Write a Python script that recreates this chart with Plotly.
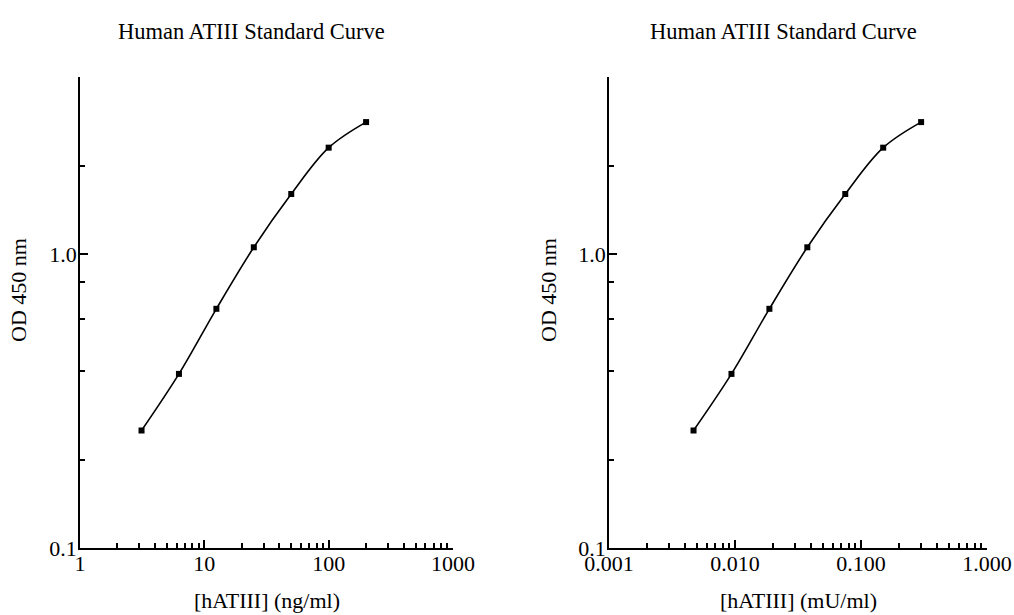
import plotly.graph_objects as go
import math

# Data
conc_ng = [3.125, 6.25, 12.5, 25, 50, 100, 200]
conc_mU = [0.0046875, 0.009375, 0.01875, 0.0375, 0.075, 0.15, 0.3]
od450 = [0.251, 0.391, 0.651, 1.054, 1.60, 2.30, 2.81]

x1_tickvals = [1, 10, 100, 1000]
x1_ticktext = ["1", "10", "100", "1000"]
x2_tickvals = [0.001, 0.01, 0.1, 1.0]
x2_ticktext = ["0.001", "0.010", "0.100", "1.000"]
y_tickvals = [0.1, 1.0]
y_ticktext = ["0.1", "1.0"]
y_minor = [0.2, 0.4, 0.6, 0.8, 2, 4]

W, H = 1014, 615
FONT = "Liberation Serif"

def minor_decades(lo, hi):
    vals = []
    d = lo
    while d < hi * 0.999:
        for k in range(2, 10):
            vals.append(d * k)
        d *= 10
    return vals

fig = go.Figure()
line = dict(color="black", width=1.6, shape="spline", smoothing=1.0)
marker = dict(symbol="square", size=6, color="black")
fig.add_trace(go.Scatter(x=conc_ng, y=od450, mode="lines+markers", line=line,
                         marker=marker, xaxis="x", yaxis="y", showlegend=False))
fig.add_trace(go.Scatter(x=conc_mU, y=od450, mode="lines+markers", line=line,
                         marker=marker, xaxis="x2", yaxis="y2", showlegend=False))

def px(x):
    return x / W

def py(y):
    return 1 - y / H

common_ax = dict(type="log", showgrid=False, zeroline=False, showline=True,
                 linecolor="black", linewidth=1.5, ticks="inside", ticklen=8,
                 tickwidth=1.5, tickcolor="black", automargin=False,
                 tickfont=dict(family=FONT, size=22, color="black"))
minor_style = dict(ticks="inside", ticklen=5, tickwidth=1.5, tickcolor="black",
                   showgrid=False)

ydom = [py(548), py(77)]
fig.update_layout(
    width=W, height=H, margin=dict(l=0, r=0, t=0, b=0, autoexpand=False),
    paper_bgcolor="white", plot_bgcolor="white",
    xaxis=dict(common_ax, domain=[px(80), px(453)], range=[0, 3],
               tickmode="array", tickvals=x1_tickvals, ticktext=x1_ticktext,
               ticklabelstandoff=-5,
               minor=dict(minor_style, tickmode="array", tickvals=minor_decades(1, 1000)),
               anchor="y"),
    yaxis=dict(common_ax, domain=ydom, range=[-1, math.log10(4)],
               tickmode="array", tickvals=y_tickvals, ticktext=y_ticktext,
               ticklabelstandoff=-3,
               minor=dict(minor_style, tickmode="array", tickvals=y_minor),
               anchor="x"),
    xaxis2=dict(common_ax, domain=[px(609), px(987)], range=[-3, 0],
                tickmode="array", tickvals=x2_tickvals, ticktext=x2_ticktext,
                ticklabelstandoff=-5,
                minor=dict(minor_style, tickmode="array", tickvals=minor_decades(0.001, 1.0)),
                anchor="y2"),
    yaxis2=dict(common_ax, domain=ydom, range=[-1, math.log10(4)],
                tickmode="array", tickvals=y_tickvals, ticktext=y_ticktext,
                ticklabelstandoff=-3,
                minor=dict(minor_style, tickmode="array", tickvals=y_minor),
                anchor="x2"),
)

ann_font = dict(family=FONT, size=22, color="black")
title_font = dict(family=FONT, size=22.5, color="black")
anns = [
    dict(text="Human ATIII Standard Curve", x=px(251.5), y=py(31), font=title_font),
    dict(text="Human ATIII Standard Curve", x=px(783.5), y=py(31), font=title_font),
    dict(text="[hATIII] (ng/ml)", x=px(267), y=py(600), font=ann_font),
    dict(text="[hATIII] (mU/ml)", x=px(798), y=py(600), font=ann_font),
    dict(text="OD 450 nm", x=px(18), y=py(290), font=ann_font, textangle=-90),
    dict(text="OD 450 nm", x=px(548), y=py(290), font=ann_font, textangle=-90),
]
for a in anns:
    fig.add_annotation(xref="paper", yref="paper", showarrow=False,
                       xanchor="center", yanchor="middle", **a)

# remove the default 8px page margin so the figure fills the window exactly
fig.write_html("out.html", config={"displayModeBar": False},
               post_script="document.body.style.margin='0';document.body.style.overflow='hidden';")
